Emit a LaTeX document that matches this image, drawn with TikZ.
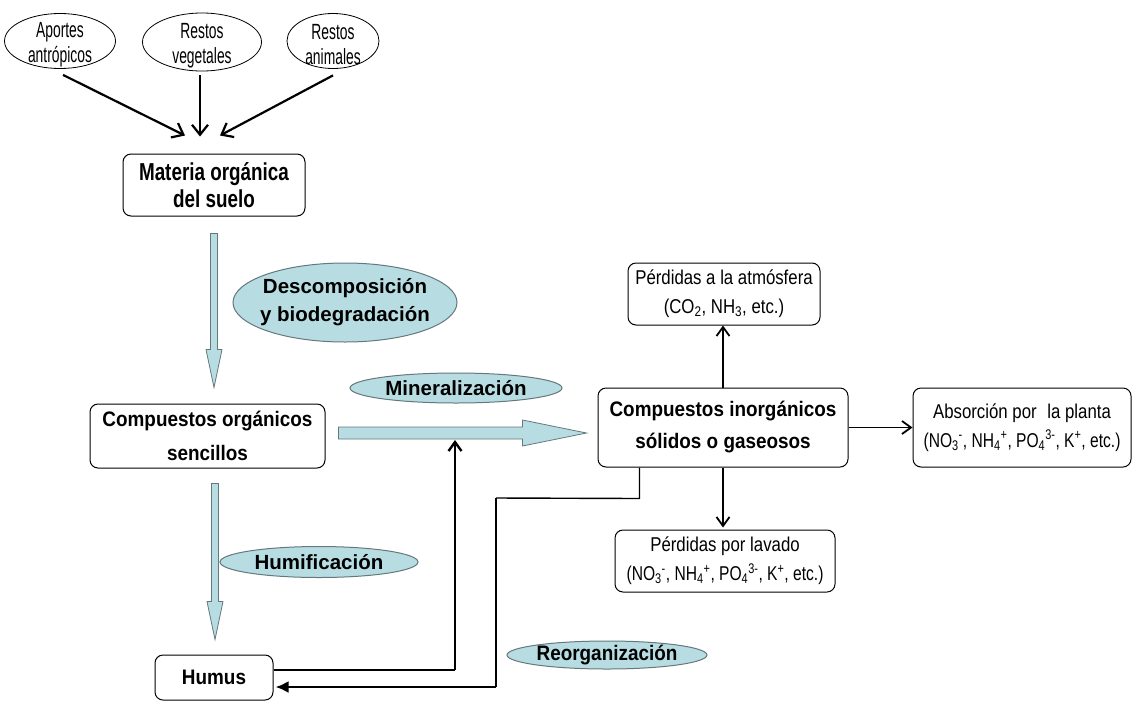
\documentclass[tikz,border=0pt]{standalone}
\usepackage{fontspec}
\setmainfont{Liberation Sans}
\newfontfamily\fE[FakeStretch=0.63]{Liberation Sans}
\newfontfamily\fR[FakeStretch=0.84]{Liberation Sans}
\newfontfamily\fRn[FakeStretch=0.78]{Liberation Sans}
\newfontfamily\fBa[FakeStretch=0.77]{Liberation Sans}
\newfontfamily\fBb[FakeStretch=0.9]{Liberation Sans}
\newfontfamily\fBc{Liberation Sans}
\usetikzlibrary{calc,arrows.meta,shapes.geometric}
\definecolor{lb}{RGB}{183,221,226}
\definecolor{lbo}{RGB}{100,120,125}
\newcommand\chem[2]{\textsubscript{#1}\textsuperscript{#2}}
\newcommand\hollowdown[2]{\draw[hollow] ($(#1)+(-3.5,0)$) -- ($(#2)+(-3.5,-38)$) -- ($(#2)+(-8,-38)$) -- (#2) -- ($(#2)+(8,-38)$) -- ($(#2)+(3.5,-38)$) -- ($(#1)+(3.5,0)$) -- cycle;}
\newcommand\hollowright[2]{\draw[hollow] ($(#1)+(0,-6)$) -- ($(#2)+(-64,-6)$) -- ($(#2)+(-64,-13)$) -- (#2) -- ($(#2)+(-64,13)$) -- ($(#2)+(-64,6)$) -- ($(#1)+(0,6)$) -- cycle;}
\begin{document}
\begin{tikzpicture}[x=1pt,y=-1pt,
  wellip/.style={ellipse,draw=black,line width=0.8pt,inner sep=0pt},
  wlab/.style={font=\fE\fontsize{22}{25}\selectfont,align=center,yshift=-4pt},
  bellip/.style={ellipse,draw=lbo,fill=lb,line width=1pt,inner sep=0pt},
  blab/.style={font=\fBc\bfseries\fontsize{20.5}{28}\selectfont,align=center},
  box/.style={draw=black,rounded corners=8pt,line width=1pt,inner sep=0pt,align=center},
  rtext/.style={font=\fR\fontsize{20}{29}\selectfont},
  hollow/.style={draw=lbo,fill=lb,line width=0.8pt,line join=miter},
  arr/.style={line width=2.2pt,-{Straight Barb[length=10pt,width=16pt]}},
  sarr/.style={line width=1.8pt,-{Straight Barb[length=9pt,width=13pt]}},
  thinl/.style={line width=1.4pt},
  thickl/.style={line width=2.4pt}]
\useasboundingbox[fill=white] (0,0) rectangle (1134,702);

% top ellipses
\node[wellip,minimum width=111pt,minimum height=55pt,label={[wlab]center:Aportes\\antrópicos}] (e1) at (60,41) {};
\node[wellip,minimum width=119pt,minimum height=58pt,label={[wlab]center:Restos\\vegetales}] (e2) at (202,42) {};
\node[wellip,minimum width=92pt,minimum height=55pt,label={[wlab]center:Restos\\animales}] (e3) at (333,41) {};

% boxes
\node[box,minimum width=182pt,minimum height=62pt,font=\fBa\bfseries\fontsize{24.5}{27}\selectfont] (mat) at (214,185) {Materia orgánica\\del suelo};
\node[box,minimum width=235pt,minimum height=64pt,font=\fBb\bfseries\fontsize{21}{34}\selectfont] (co) at (207.5,436) {Compuestos orgánicos\\sencillos};
\node[box,minimum width=250pt,minimum height=79pt,font=\fBb\bfseries\fontsize{21}{32}\selectfont] (inorg) at (723,427.5) {Compuestos inorgánicos\\sólidos o gaseosos};
\node[box,minimum width=192pt,minimum height=62pt,rtext] (atm) at (724,294) {Pérdidas a la atmósfera\\(CO\textsubscript{2}, NH\textsubscript{3}, etc.)};
\node[box,minimum width=218pt,minimum height=79pt,rtext] (abs) at (1022,427.5) {Absorción por\hspace{0.3em} la planta\\{\fRn(NO\chem{3}{-}, NH\chem{4}{+}, PO\chem{4}{3-}, K\textsuperscript{+}, etc.)}};
\node[box,minimum width=220pt,minimum height=62pt,rtext] (lav) at (725,561) {Pérdidas por lavado\\{\fRn(NO\chem{3}{-}, NH\chem{4}{+}, PO\chem{4}{3-}, K\textsuperscript{+}, etc.)}};
\node[box,minimum width=118pt,minimum height=45pt,font=\fBb\bfseries\fontsize{21}{28}\selectfont] (hum) at (214,677.5) {Humus};

% process ellipses
\node[bellip,minimum width=224pt,minimum height=79pt,label={[blab]center:Descomposición\\y biodegradación}] (desc) at (345,302.5) {};
\node[bellip,minimum width=212pt,minimum height=30pt,label={[blab]center:Mineralización}] (mine) at (456,388) {};
\node[bellip,minimum width=198pt,minimum height=31pt,label={[blab]center:Humificación}] (humi) at (319,562) {};
\node[bellip,minimum width=200pt,minimum height=28pt,label={[blab,font=\fBb\bfseries\fontsize{21}{28}\selectfont]center:Reorganización}] (reorg) at (607,655) {};

% arrows from top ellipses
\draw[arr] ($(e1.south)+(3,6)$) -- ($(mat.north)+(-29,-18)$);
\draw[arr] ($(e2.south)+(-2,4)$) -- ($(mat.north)+(-14,-17)$);
\draw[arr] ($(e3.south)+(0,6.5)$) -- ($(mat.north)+(6,-18)$);

% hollow arrows
\coordinate (h1s) at ($(mat.south)+(0,17)$);
\coordinate (h1e) at ($(mat.south |- co.north)+(0,-16)$);
\hollowdown{h1s}{h1e}
\coordinate (h2s) at ($(hum.north |- co.south)+(1,15)$);
\coordinate (h2e) at ($(hum.north)+(1,-15)$);
\hollowdown{h2s}{h2e}
\coordinate (h3s) at ($(co.east)+(13,-3)$);
\coordinate (h3e) at ($(inorg.west)+(-11,5.5)$);
\hollowright{h3s}{h3e}

% inorganic outputs
\draw[sarr] (inorg.north) -- (inorg.north |- atm.south);
\draw[sarr] (inorg.south) -- ($(inorg.south |- lav.north)+(0,-2)$);
\draw[sarr] (inorg.east) -- (abs.west);

% humus -> mineralization
\coordinate (m1) at (455,670);
\coordinate (mt) at (455,440);
\draw[thinl] ($(hum.east)+(0,-7.5)$) -- (m1);
\draw[thickl,-{Straight Barb[length=9pt,width=13pt]}] (m1) -- (mt);

% reorganization path
\coordinate (r1) at ($(inorg.south west)+(42,0)$);
\coordinate (r2) at ($(r1)+(0,31)$);
\coordinate (r3) at (496,498);
\coordinate (r4) at (496,687);
\draw[thinl] (r1) -- (r2) -- (r3);
\draw[line width=2pt] (r3) -- (r4);
\draw[thickl,-{Latex[length=13pt,width=12pt]}] (r4) -- ($(hum.east)+(2,9.5)$);
\end{tikzpicture}
\end{document}
